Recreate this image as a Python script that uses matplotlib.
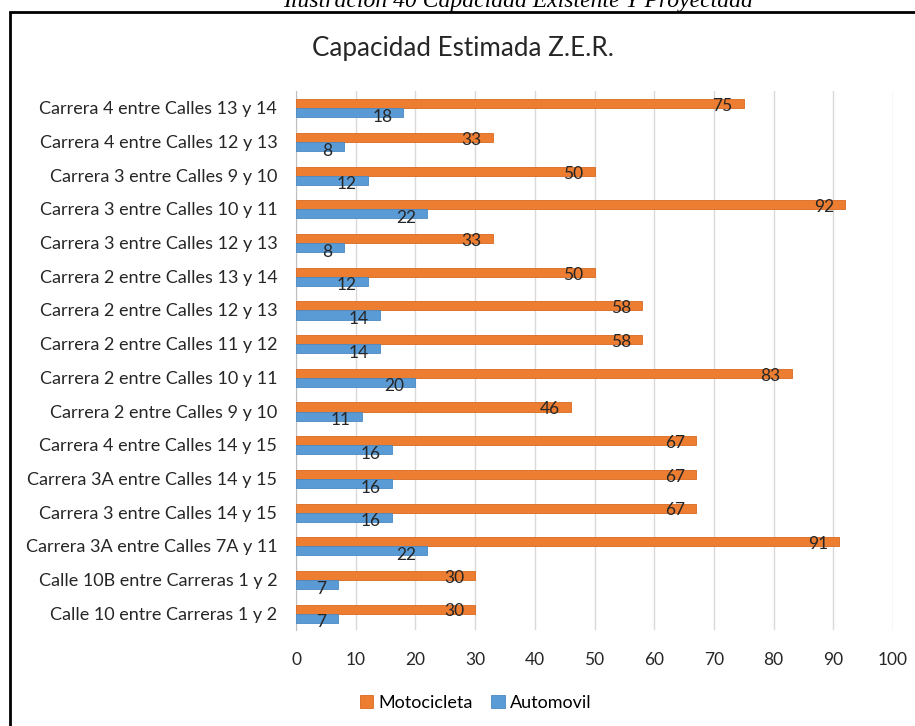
import numpy as np
import matplotlib.pyplot as plt
from matplotlib.patches import Rectangle

plt.rcParams['font.family'] = ['Lato', 'DejaVu Sans']

# categories, top to bottom as in the chart
calles = ['Carrera 4 entre Calles 13 y 14', 'Carrera 4 entre Calles 12 y 13',
          'Carrera 3 entre Calles 9 y 10', 'Carrera 3 entre Calles 10 y 11',
          'Carrera 3 entre Calles 12 y 13', 'Carrera 2 entre Calles 13 y 14',
          'Carrera 2 entre Calles 12 y 13', 'Carrera 2 entre Calles 11 y 12',
          'Carrera 2 entre Calles 10 y 11', 'Carrera 2 entre Calles 9 y 10',
          'Carrera 4 entre Calles 14 y 15', 'Carrera 3A entre Calles 14 y 15',
          'Carrera 3 entre Calles 14 y 15', 'Carrera 3A entre Calles 7A y 11',
          'Calle 10B entre Carreras 1 y 2', 'Calle 10 entre Carreras 1 y 2']
motocicleta = [75, 33, 50, 92, 33, 50, 58, 58, 83, 46, 67, 67, 67, 91, 30, 30]
automovil = [18, 8, 12, 22, 8, 12, 14, 14, 20, 11, 16, 16, 16, 22, 7, 7]

naranja = '#ED7D31'
azul = '#5B9BD5'

fig = plt.figure(figsize=(9.15, 7.26), dpi=100)
ax = fig.add_axes([0.3235, 0.1322, 0.6525, 0.7425])

y = np.arange(len(calles))[::-1]
h = 0.27
ax.barh(y + 0.12, motocicleta, height=h, color=naranja, edgecolor='#D9691F', linewidth=0.6,
        label='Motocicleta', zorder=3)
ax.barh(y - 0.15, automovil, height=h, color=azul, edgecolor='#4A89C2', linewidth=0.6,
        label='Automovil', zorder=3)

# etiquetas de datos dentro del extremo de cada barra
for yi, m, a in zip(y, motocicleta, automovil):
    ax.annotate(str(m), (m, yi + 0.05), xytext=(-8, 0), textcoords='offset points',
                ha='right', va='center', fontsize=12.5, color='#262626', zorder=4)
    ax.annotate(str(a), (a, yi - 0.27), xytext=(-8, 0), textcoords='offset points',
                ha='right', va='center', fontsize=12.5, color='#262626', zorder=4)

ax.set_xlim(0, 100)
ax.set_ylim(-0.5, len(calles) - 0.5)
ax.set_xticks(range(0, 101, 10))
ax.set_yticks(y)
ax.set_yticklabels(calles, fontsize=13, color='#262626')
ax.tick_params(axis='x', labelsize=12.5, colors='#262626', length=0, pad=16)
ax.tick_params(axis='y', length=0, pad=13.5)
ax.grid(axis='x', color='#D9D9D9', linewidth=1, zorder=0)
for s in ['top', 'right', 'bottom']:
    ax.spines[s].set_visible(False)
ax.spines['left'].set_color('#BFBFBF')

fig.text(0.506, 0.933, 'Capacidad Estimada Z.E.R.', ha='center', va='center',
         fontsize=18.7, color='#262626')
fig.text(0.566, 0.991, 'Ilustración 40 Capacidad Existente Y Proyectada', ha='center',
         va='baseline', fontsize=17, style='italic', family='Liberation Serif')

fig.legend(loc='center', bbox_to_anchor=(0.52, 0.032), ncol=2, frameon=False,
           fontsize=13, handlelength=0.75, handleheight=0.75, columnspacing=1.0, handletextpad=0.3)

fig.patches.append(Rectangle((0.011, -0.05), 1.1, 1.034, transform=fig.transFigure,
                             fill=False, edgecolor='black', linewidth=2, clip_on=False))

plt.savefig('out.png')
